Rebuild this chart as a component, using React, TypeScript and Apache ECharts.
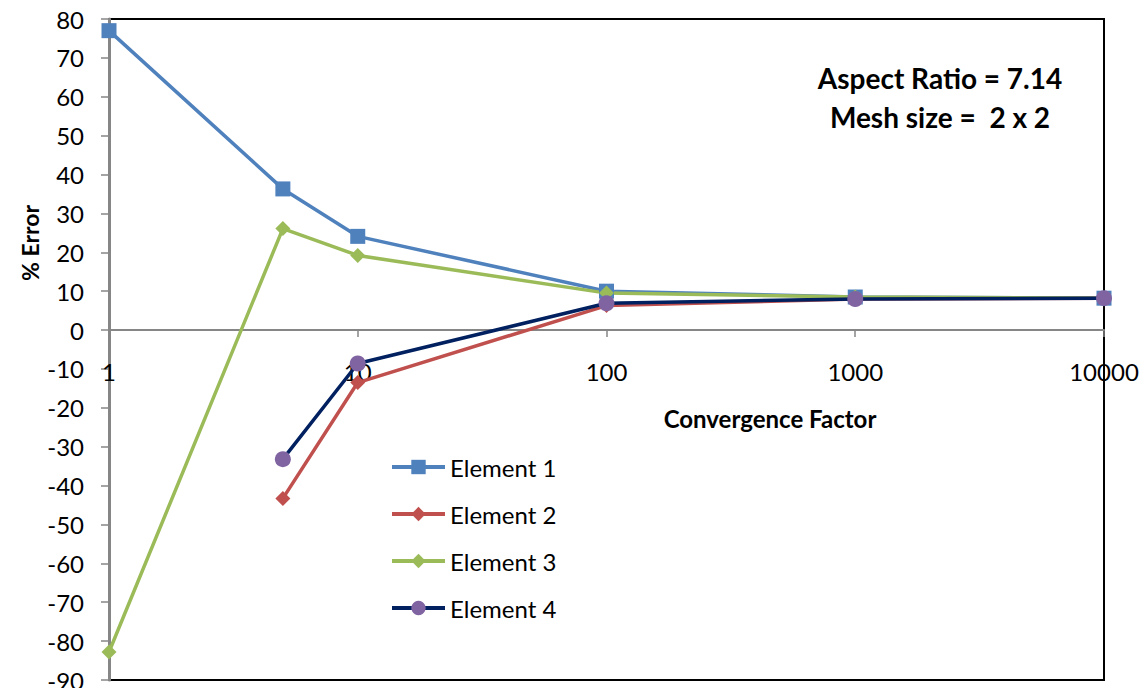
import React, { useEffect, useRef } from "react";
import * as echarts from "echarts";

const xValues = [1, 5, 10, 100, 1000, 10000];
const element1 = [77, 36.3, 24.1, 10, 8.5, 8.2];
const element2 = [null, -43.3, -13.5, 6.3, 8, 8.2];
const element3 = [-82.8, 26.1, 19.2, 9.5, 8.5, 8.2];
const element4 = [null, -33.2, -8.6, 6.9, 8, 8.2];
const seriesNames = ["Element 1", "Element 2", "Element 3", "Element 4"];
const yMin = -90;
const yMax = 80;
const yInterval = 10;
const xMin = 1;
const xMax = 10000;
const xTitle = "Convergence Factor";
const yTitle = "% Error";
const noteLines = ["Aspect Ratio = 7.14", "Mesh size =  2 x 2"];

const FONT = "Lato, 'Liberation Sans', sans-serif";

const GRID_TOP = 19;
const GRID_BOTTOM = 8;
const CHART_H = 688;

function pairs(vals: (number | null)[]) {
  const out: [number, number][] = [];
  xValues.forEach((x, i) => {
    const v = vals[i];
    if (v !== null && v !== undefined) out.push([x, v]);
  });
  return out;
}

export default function App() {
  const ref = useRef<HTMLDivElement>(null);
  useEffect(() => {
    if (!ref.current) return;
    const chart = echarts.init(ref.current, null, { renderer: "svg" });
    const styles = [
      { line: "#4F81BD", mark: "#4F81BD", symbol: "rect", size: 15 },
      { line: "#C0504D", mark: "#C0504D", symbol: "diamond", size: 15 },
      { line: "#9BBB59", mark: "#9BBB59", symbol: "diamond", size: 15 },
      { line: "#002060", mark: "#8064A2", symbol: "circle", size: 16 },
    ];
    const allData = [element1, element2, element3, element4];
    const plotH = CHART_H - GRID_TOP - GRID_BOTTOM;
    const zeroFromBottom = ((0 - yMin) / (yMax - yMin)) * plotH;
    chart.setOption({
      animation: false,
      backgroundColor: "#ffffff",
      textStyle: { fontFamily: FONT },
      grid: {
        left: 109,
        right: 41,
        top: GRID_TOP,
        bottom: GRID_BOTTOM,
        show: true,
        borderColor: "#000000",
        borderWidth: 2,
        containLabel: false,
        outerBoundsMode: "none",
      },
      legend: {
        orient: "vertical",
        left: 390,
        top: 455,
        padding: 0,
        itemWidth: 53,
        itemHeight: 18,
        itemGap: 23,
        data: seriesNames,
        lineStyle: { width: 4 },
        textStyle: { fontSize: 24, color: "#000", fontFamily: FONT },
      },
      xAxis: {
        type: "log",
        logBase: 10,
        min: xMin,
        max: xMax,
        position: "bottom",
        offset: -zeroFromBottom,
        axisLine: { show: true, onZero: false, lineStyle: { color: "#868686", width: 2 } },
        axisTick: { show: true, inside: false, length: 7, lineStyle: { color: "#868686", width: 1.5 } },
        minorTick: { show: false },
        splitLine: { show: false },
        axisLabel: {
          fontSize: 24,
          color: "#000",
          margin: 29,
          fontFamily: FONT,
          formatter: (v: number) => String(Math.round(v)),
        },
      },
      yAxis: {
        type: "value",
        min: yMin,
        max: yMax,
        interval: yInterval,
        axisLine: { show: true, onZero: false, lineStyle: { color: "#868686", width: 3 } },
        axisTick: { show: true, inside: false, length: 8, lineStyle: { color: "#868686", width: 1.5 } },
        splitLine: { show: false },
        axisLabel: { fontSize: 24, color: "#000", margin: 25, fontFamily: FONT },
      },
      graphic: [
        {
          type: "text",
          x: 30,
          y: 243,
          rotation: Math.PI / 2,
          style: {
            text: yTitle,
            font: `bold 23px ${FONT}`,
            fill: "#000",
            textAlign: "center",
            textVerticalAlign: "middle",
          },
        },
        {
          type: "text",
          x: 770,
          y: 418,
          style: {
            text: xTitle,
            font: `bold 24px ${FONT}`,
            fill: "#000",
            textAlign: "center",
            textVerticalAlign: "middle",
          },
        },
        {
          type: "text",
          x: 940,
          y: 78,
          style: {
            text: noteLines[0],
            font: `bold 28px ${FONT}`,
            fill: "#000",
            textAlign: "center",
            textVerticalAlign: "middle",
          },
        },
        {
          type: "text",
          x: 940,
          y: 117,
          style: {
            text: noteLines[1],
            font: `bold 28px ${FONT}`,
            fill: "#000",
            textAlign: "center",
            textVerticalAlign: "middle",
          },
        },
      ],
      series: seriesNames.map((name, i) => ({
        name,
        type: "line",
        data: pairs(allData[i]),
        symbol: styles[i].symbol,
        symbolSize: styles[i].size,
        showSymbol: true,
        lineStyle: { color: styles[i].line, width: 3.5 },
        itemStyle: { color: styles[i].mark },
        color: styles[i].mark,
        z: 2 + (i === 3 ? 1 : 0),
      })),
    });
    return () => chart.dispose();
  }, []);
  return (
    <div
      ref={ref}
      style={{ position: "fixed", left: 0, top: 0, width: 1145, height: 688 }}
    />
  );
}
